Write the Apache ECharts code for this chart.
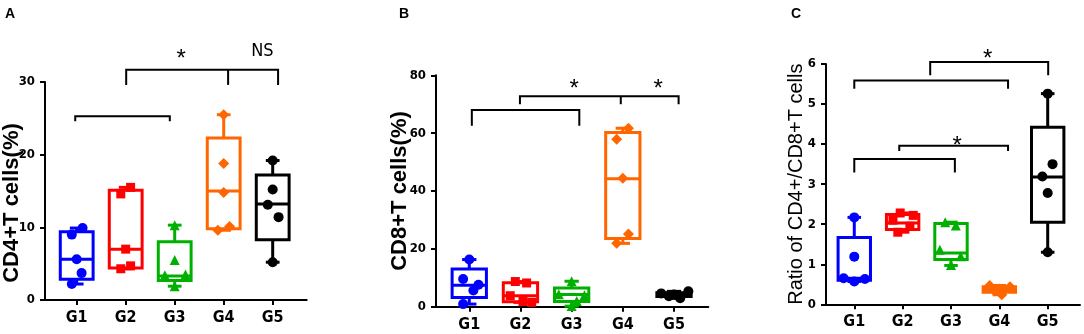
<!DOCTYPE html>
<html>
<head>
<meta charset="utf-8">
<script src="https://cdn.jsdelivr.net/npm/echarts@6/dist/echarts.min.js"></script>
<style>
  html, body { margin: 0; padding: 0; background: #fff; }
  #chart { width: 1084px; height: 334px; }
</style>
</head>
<body>
<div id="chart"></div>
<script>
// groups and colours
const groups = ['G1', 'G2', 'G3', 'G4', 'G5']
const groupColors = ['#0000ff', '#ff0000', '#00b000', '#ff6600', '#000000']
const groupSymbols = ['circle', 'rect', 'triangle', 'diamond', 'circle']

// panel A: CD4+T cells(%)  box = [min, q1, median, q3, max]
const cd4Box = [
  [2.2, 2.85, 5.6, 9.4, 9.9],
  [4.3, 4.4, 7.0, 15.1, 15.5],
  [1.9, 2.7, 3.3, 8.0, 10.3],
  [9.6, 9.8, 15.0, 22.3, 25.5],
  [5.2, 8.3, 13.2, 17.2, 19.2]
]
const cd4Points = [
  [9.9, 9.0, 5.6, 3.7, 2.2],
  [15.5, 14.6, 7.0, 4.7, 4.3],
  [10.3, 5.5, 3.5, 3.4, 1.9],
  [25.5, 18.8, 14.8, 10.1, 9.6],
  [19.2, 15.2, 13.1, 11.4, 5.2]
]
const cd4Jitter = [
  [0.12, -0.1, 0, 0.1, -0.1],
  [0.1, -0.1, 0, 0.1, -0.1],
  [0, 0, 0.22, -0.2, 0],
  [0, 0, 0, 0.12, -0.12],
  [0, 0, -0.1, 0.12, 0]
]
const cd4Brackets = [[2.01, 5.11, 31.7, 29.6], [0.97, 2.9, 25.3, 24.6]]
const cd4Drops = [[4.09, 31.7, 29.6]]
const cd4Marks = [['*', 3.13, 33.8], ['NS', 4.79, 34.2]]

// panel B: CD8+T cells(%)
const cd8Box = [
  [0.9, 3.2, 7.4, 13.0, 16.3],
  [1.5, 1.7, 3.8, 8.3, 8.7],
  [0.2, 1.8, 4.2, 6.5, 8.8],
  [21.9, 23.6, 44.2, 60.2, 61.7],
  [2.9, 3.5, 4.2, 4.8, 5.3]
]
const cd8Points = [
  [16.3, 9.6, 7.6, 5.6, 0.9],
  [8.7, 8.2, 3.8, 1.8, 1.5],
  [8.8, 4.3, 4.0, 2.0, 0.2],
  [61.7, 57.9, 44.4, 25.1, 21.9],
  [5.3, 4.6, 4.2, 3.6, 2.9]
]
const cd8Jitter = [
  [0, -0.12, 0.18, 0.08, -0.12],
  [-0.1, 0.12, -0.2, 0.05, 0.22],
  [0, -0.25, 0.25, 0.1, 0],
  [0.11, -0.12, 0, 0.11, -0.12],
  [0.28, -0.25, 0, -0.1, 0.12]
]
const cd8Brackets = [[1.99, 5.09, 72.8, 70.0], [1.05, 3.15, 68.0, 62.6]]
const cd8Drops = [[3.96, 72.8, 70.0]]
const cd8Marks = [['*', 3.05, 77], ['*', 4.69, 77]]

// panel C: Ratio of CD4+/CD8+T cells
const ratioBox = [
  [0.57, 0.6, 0.65, 1.67, 2.17],
  [1.8, 1.87, 2.03, 2.24, 2.28],
  [0.97, 1.12, 1.28, 2.02, 2.05],
  [0.24, 0.3, 0.37, 0.44, 0.47],
  [1.3, 2.05, 3.18, 4.42, 5.26]
]
const ratioPoints = [
  [2.17, 1.19, 0.65, 0.57, 0.63],
  [2.28, 2.22, 2.1, 1.95, 1.8],
  [2.05, 1.97, 1.36, 1.2, 0.98],
  [0.47, 0.44, 0.38, 0.33, 0.24],
  [5.26, 3.5, 3.19, 2.78, 1.3]
]
const ratioJitter = [
  [0, 0, -0.22, 0, 0.22],
  [-0.05, 0.22, -0.2, 0.15, -0.1],
  [-0.12, 0.1, -0.23, 0.2, 0],
  [-0.2, 0.22, 0, -0.1, 0.05],
  [0, 0.1, -0.11, 0, 0]
]
const ratioBrackets = [[2.57, 5.01, 6.05, 5.72], [1.0, 4.18, 5.59, 5.38], [1.93, 4.18, 3.96, 3.83], [1.0, 3.08, 3.63, 3.29]]
const ratioDrops = []
const ratioMarks = [['*', 3.76, 6.23], ['*', 3.13, 4.07]]

const narrow = "'Liberation Sans Narrow', 'DejaVu Sans Condensed', Arial, sans-serif"

const panels = [
  {
    name: 'CD4+T cells(%)', box: cd4Box, points: cd4Points, jitter: cd4Jitter,
    brackets: cd4Brackets, drops: cd4Drops, marks: cd4Marks,
    grid: { left: 45, right: 777.3, top: 82, bottom: 34 },
    xRange: [0.353, 5.694], yMax: 30, yStep: 10,
    nameStyle: { fontSize: 22, fontWeight: 'bold', padding: [0, 24, 0, 0] }, nameGap: 22
  },
  {
    name: 'CD8+T cells(%)', box: cd8Box, points: cd8Points, jitter: cd8Jitter,
    brackets: cd8Brackets, drops: cd8Drops, marks: cd8Marks,
    grid: { left: 436, right: 375.7, top: 75.3, bottom: 27.3 },
    xRange: [0.35, 5.67], yMax: 80, yStep: 20,
    nameStyle: { fontSize: 22, fontWeight: 'bold' }, nameGap: 25
  },
  {
    name: 'Ratio of CD4+/CD8+T cells', box: ratioBox, points: ratioPoints, jitter: ratioJitter,
    brackets: ratioBrackets, drops: ratioDrops, marks: ratioMarks,
    grid: { left: 826, right: 4, top: 64, bottom: 29.7 },
    xRange: [0.415, 5.668], yMax: 6, yStep: 1,
    nameStyle: { fontSize: 20, fontWeight: 'normal' }, nameGap: 20
  }
]

const boxWidth = 0.67
const capWidth = 0.28

const renderBox = (params, api) => {
  const x = api.value(0)
  const color = groupColors[params.dataIndex]
  const lo = api.coord([x, api.value(1)])
  const q1 = api.coord([x, api.value(2)])
  const md = api.coord([x, api.value(3)])
  const q3 = api.coord([x, api.value(4)])
  const hi = api.coord([x, api.value(5)])
  const w = api.size([boxWidth, 0])[0]
  const cw = api.size([capWidth, 0])[0]
  const style = { stroke: color, lineWidth: 3, fill: 'none' }
  return {
    type: 'group',
    children: [
      { type: 'line', shape: { x1: lo[0], y1: lo[1], x2: q1[0], y2: q1[1] }, style },
      { type: 'line', shape: { x1: hi[0], y1: hi[1], x2: q3[0], y2: q3[1] }, style },
      { type: 'line', shape: { x1: lo[0] - cw / 2, y1: lo[1], x2: lo[0] + cw / 2, y2: lo[1] }, style },
      { type: 'line', shape: { x1: hi[0] - cw / 2, y1: hi[1], x2: hi[0] + cw / 2, y2: hi[1] }, style },
      { type: 'rect', shape: { x: q3[0] - w / 2, y: q3[1], width: w, height: q1[1] - q3[1] }, style },
      { type: 'line', shape: { x1: md[0] - w / 2, y1: md[1], x2: md[0] + w / 2, y2: md[1] }, style }
    ]
  }
}

const renderBracket = (params, api) => {
  const a = api.coord([api.value(0), api.value(2)])
  const b = api.coord([api.value(1), api.value(2)])
  const a2 = api.coord([api.value(0), api.value(3)])
  const b2 = api.coord([api.value(1), api.value(3)])
  return {
    type: 'polyline',
    shape: { points: [a2, a, b, b2] },
    style: { stroke: '#000', lineWidth: 2, fill: 'none' }
  }
}

const renderDrop = (params, api) => {
  const a = api.coord([api.value(0), api.value(1)])
  const b = api.coord([api.value(0), api.value(2)])
  return {
    type: 'line',
    shape: { x1: a[0], y1: a[1], x2: b[0], y2: b[1] },
    style: { stroke: '#000', lineWidth: 2 }
  }
}

const makeMarkRenderer = (marks) => (params, api) => {
  const p = api.coord([api.value(0), api.value(1)])
  const txt = marks[params.dataIndex][0]
  const star = txt === '*'
  return {
    type: 'text',
    x: p[0],
    y: p[1] + (star ? 5 : 0),
    style: {
      text: txt,
      fill: '#000',
      font: star ? '24px Arial' : ('18px ' + narrow),
      align: 'center',
      verticalAlign: 'middle',
      textAlign: 'center',
      textVerticalAlign: 'middle'
    }
  }
}

const grids = []
const xAxes = []
const yAxes = []
const series = []

panels.forEach((p, k) => {
  grids.push(Object.assign({ outerBoundsMode: 'none', containLabel: false }, p.grid))
  xAxes.push({
    type: 'value',
    gridIndex: k,
    min: p.xRange[0],
    max: p.xRange[1],
    axisLine: { onZero: false, lineStyle: { color: '#000', width: 2 } },
    axisTick: { show: true, customValues: [1, 2, 3, 4, 5], length: 5, lineStyle: { color: '#000', width: 2 } },
    axisLabel: {
      customValues: [1, 2, 3, 4, 5],
      formatter: v => groups[Math.round(v) - 1],
      margin: 10,
      color: '#000',
      fontSize: 16,
      fontWeight: 'bold',
      fontFamily: narrow
    },
    splitLine: { show: false }
  })
  yAxes.push({
    type: 'value',
    gridIndex: k,
    min: 0,
    max: p.yMax,
    interval: p.yStep,
    name: p.name,
    nameLocation: 'middle',
    nameGap: p.nameGap,
    nameMoveOverlap: false,
    nameTextStyle: Object.assign({ color: '#000', fontFamily: 'Arial' }, p.nameStyle),
    axisLine: { show: true, onZero: false, lineStyle: { color: '#000', width: 2 } },
    axisTick: { show: true, length: 5, lineStyle: { color: '#000', width: 2 } },
    axisLabel: { margin: 10, color: '#000', fontSize: 13, fontWeight: 'bold', fontFamily: narrow },
    splitLine: { show: false }
  })

  series.push({
    type: 'custom',
    xAxisIndex: k,
    yAxisIndex: k,
    renderItem: renderBox,
    encode: { x: 0, y: [1, 2, 3, 4, 5] },
    data: p.box.map((b, i) => [i + 1].concat(b)),
    z: 2,
    silent: true
  })
  p.points.forEach((vals, i) => {
    series.push({
      type: 'scatter',
      xAxisIndex: k,
      yAxisIndex: k,
      symbol: groupSymbols[i],
      symbolSize: groupSymbols[i] === 'rect' ? 9 : (groupSymbols[i] === 'diamond' ? 11 : 10),
      itemStyle: { color: groupColors[i], opacity: 1 },
      data: vals.map((v, j) => [i + 1 + p.jitter[i][j], v]),
      z: 3,
      silent: true
    })
  })
  series.push({
    type: 'custom',
    xAxisIndex: k,
    yAxisIndex: k,
    renderItem: renderBracket,
    encode: { x: [0, 1], y: [2, 3] },
    data: p.brackets,
    clip: false,
    silent: true
  })
  if (p.drops.length) {
    series.push({
      type: 'custom',
      xAxisIndex: k,
      yAxisIndex: k,
      renderItem: renderDrop,
      encode: { x: 0, y: [1, 2] },
      data: p.drops,
      clip: false,
      silent: true
    })
  }
  series.push({
    type: 'custom',
    xAxisIndex: k,
    yAxisIndex: k,
    renderItem: makeMarkRenderer(p.marks),
    encode: { x: 0, y: 1 },
    data: p.marks.map(m => [m[1], m[2]]),
    clip: false,
    silent: true
  })
})

const chart = echarts.init(document.getElementById('chart'), null, { renderer: 'canvas' })
chart.setOption({
  animation: false,
  backgroundColor: '#fff',
  title: [
    { text: 'A', left: 5, top: 7, padding: 0 },
    { text: 'B', left: 399, top: 7, padding: 0 },
    { text: 'C', left: 791, top: 7, padding: 0 }
  ].map(t => Object.assign(t, { textStyle: { fontSize: 14, fontWeight: 'bold', color: '#000', fontFamily: 'Arial' } })),
  grid: grids,
  xAxis: xAxes,
  yAxis: yAxes,
  series: series
})
</script>
</body>
</html>
